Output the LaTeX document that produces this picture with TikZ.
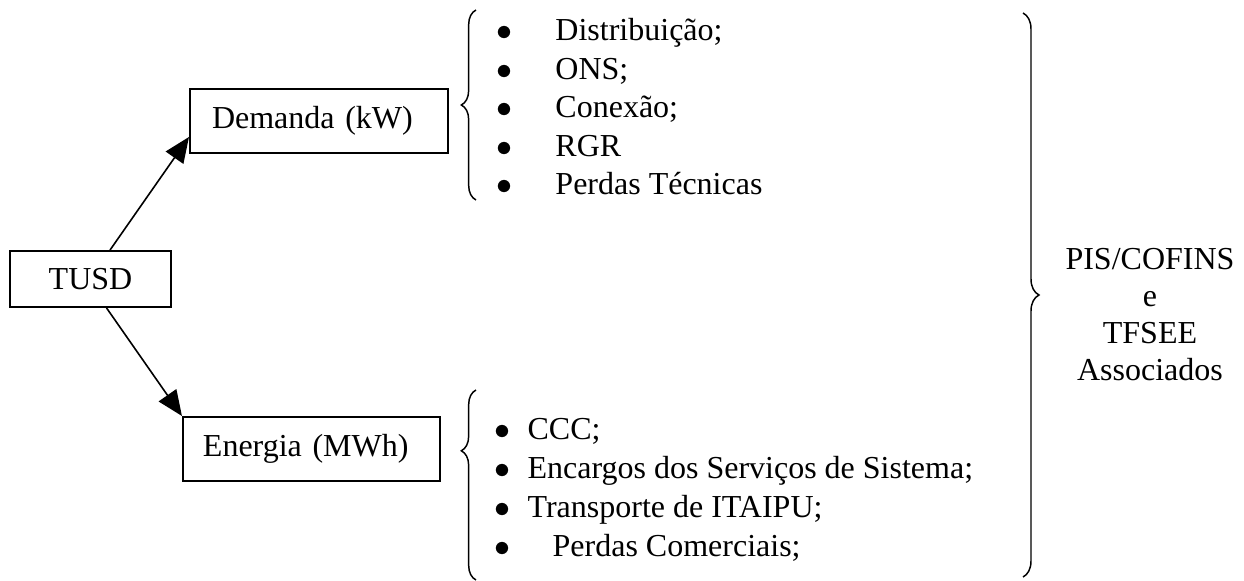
\documentclass[tikz,border=0pt]{standalone}
\usepackage{fontspec}
\setmainfont{Liberation Serif}
\usetikzlibrary{arrows.meta,decorations.pathreplacing,positioning}
\newcommand{\bul}[1]{\makebox[#1][l]{$\bullet$}}

\begin{document}
\begin{tikzpicture}[x=0.375pt,y=-0.375pt,
	font=\fontsize{12}{14}\selectfont,
	box/.style={draw,line width=0.75pt,rectangle,minimum height=24pt,inner ysep=0pt,align=left},
	arr/.style={-{Triangle[length=9.5pt,width=8pt]},line width=0.6pt},
	brc/.style={decorate,decoration={brace,amplitude=5.5pt},line width=0.55pt},
	item/.style={anchor=base west,inner sep=0pt}]
		\useasboundingbox (0,0) rectangle (1244,581);
		% boxes
		\node at (90.5,279)[draw,line width=0.75pt,minimum width=60.4pt,minimum height=21pt,inner sep=0pt] (tusd) {TUSD};
		\node at (319,121)[box,text width=80.25pt,inner xsep=8.25pt] (dem) {Demanda (kW)};
		\node at (311.5,449)[box,text width=81.4pt,inner xsep=7.5pt] (ene) {Energia (MWh)};
		\draw[arr] (tusd.56.5) -- (dem.187.5);
		\draw[arr] (tusd.-61) -- (ene.north west);
		% demanda
		\coordinate (dtop) at (476,10);
		\coordinate (dbot) at (476,200);
		\draw[brc] (dbot) -- (dtop);
		\node at (496,41)[item] (d1) {\bul{22.1pt}Distribuição;};
		\node at (496,79.5)[item] (d2) {\bul{22.1pt}ONS;};
		\node at (496,118)[item] (d3) {\bul{22.1pt}Conexão;};
		\node at (496,156.5)[item] (d4) {\bul{22.1pt}RGR};
		\node at (496,195)[item] (d5) {\bul{22.1pt}Perdas Técnicas};
		% energia
		\coordinate (etop) at (476,390);
		\coordinate (ebot) at (476,580);
		\draw[brc,decoration={aspect=0.68}] (ebot) -- (etop);
		\node at (494,439)[item] (e1) {\bul{12.4pt}CCC;};
		\node at (494,478)[item] (e2) {\bul{12.4pt}Encargos dos Serviços de Sistema;};
		\node at (494,517)[item] (e3) {\bul{12.4pt}Transporte de ITAIPU;};
		\node at (494,556)[item] (e4) {\bul{21.8pt}Perdas Comerciais;};
		% encargos
		\coordinate (gtop) at (1023,13);
		\coordinate (gbot) at (1023,577);
		\draw[brc,decoration={amplitude=6pt}] (gtop) -- (gbot);
		\node at (1150,381)[anchor=base,align=center,inner sep=0pt,font=\fontsize{12}{13.9}\selectfont] (pis) {PIS/COFINS\\e\\TFSEE\\Associados};
\end{tikzpicture}
\end{document}
